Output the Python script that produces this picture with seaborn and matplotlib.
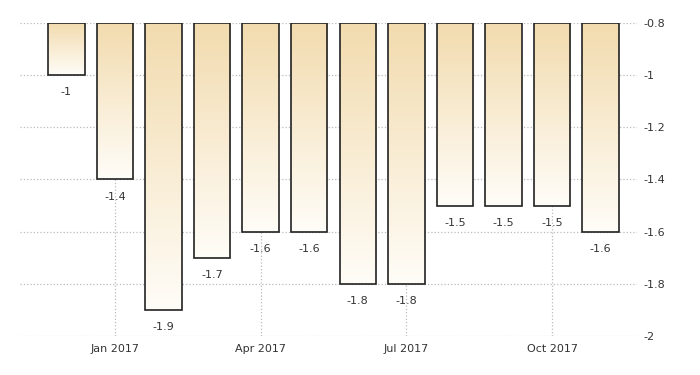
import numpy as np
import pandas as pd
import seaborn as sns
import matplotlib.pyplot as plt
from matplotlib.colors import LinearSegmentedColormap

# datos
meses = ["Dec 2016", "Jan 2017", "Feb 2017", "Mar 2017", "Apr 2017", "May 2017",
         "Jun 2017", "Jul 2017", "Aug 2017", "Sep 2017", "Oct 2017", "Nov 2017"]
valores = [-1.0, -1.4, -1.9, -1.7, -1.6, -1.6, -1.8, -1.8, -1.5, -1.5, -1.5, -1.6]
etiquetas_x = ["Jan 2017", "Apr 2017", "Jul 2017", "Oct 2017"]
ticks_y = [-0.8, -1.0, -1.2, -1.4, -1.6, -1.8, -2.0]
base = -0.8

df = pd.DataFrame({"mes": meses, "valor": valores})
df["alto"] = df["valor"] - base

sns.set_style("white")
fig = plt.figure(figsize=(7, 3.75), dpi=100)
ax = fig.add_axes([0.029, 0.104, 0.881, 0.835])

sns.barplot(data=df, x="mes", y="alto", bottom=base, width=0.75,
            color="white", edgecolor="#222222", linewidth=1.2, ax=ax)

# relleno degradado: tostado arriba, casi blanco abajo
cmap = LinearSegmentedColormap.from_list("tan", ["#fffdf8", "#f2dbae"])
grad = np.linspace(0, 1, 256).reshape(-1, 1)
for p in ax.patches:
    x0, y0 = p.get_x(), p.get_y()
    y1 = y0 + p.get_height()
    im = ax.imshow(grad, cmap=cmap, aspect="auto", origin="lower",
                   extent=[x0, x0 + p.get_width(), min(y0, y1), max(y0, y1)],
                   zorder=2)
    im.set_clip_path(p)
    p.set_facecolor("none")
    p.set_zorder(3)

# etiquetas de valor bajo cada barra
for i, v in enumerate(valores):
    ax.annotate("{:g}".format(v), (i, v), xytext=(0, -12.5), textcoords="offset points",
                ha="center", va="center", fontsize=8, color="#333333")

ax.set_xlim(-0.95, 11.75)
ax.set_ylim(-2.0, -0.8)

pos_x = [meses.index(m) for m in etiquetas_x]
ax.set_xticks(pos_x)
ax.set_xticklabels(etiquetas_x, fontsize=8, color="#333333")
ax.set_yticks(ticks_y)
ax.set_yticklabels(["{:g}".format(t) for t in ticks_y], fontsize=8, color="#333333")
ax.yaxis.tick_right()
ax.tick_params(axis="x", length=0, pad=6)
ax.tick_params(axis="y", length=0, pad=5)

ax.grid(True, linestyle=":", color="#bbbbbb", linewidth=0.9)
ax.set_axisbelow(True)
for s in ax.spines.values():
    s.set_visible(False)
ax.set_xlabel("")
ax.set_ylabel("")

plt.savefig("out.png", dpi=100)
